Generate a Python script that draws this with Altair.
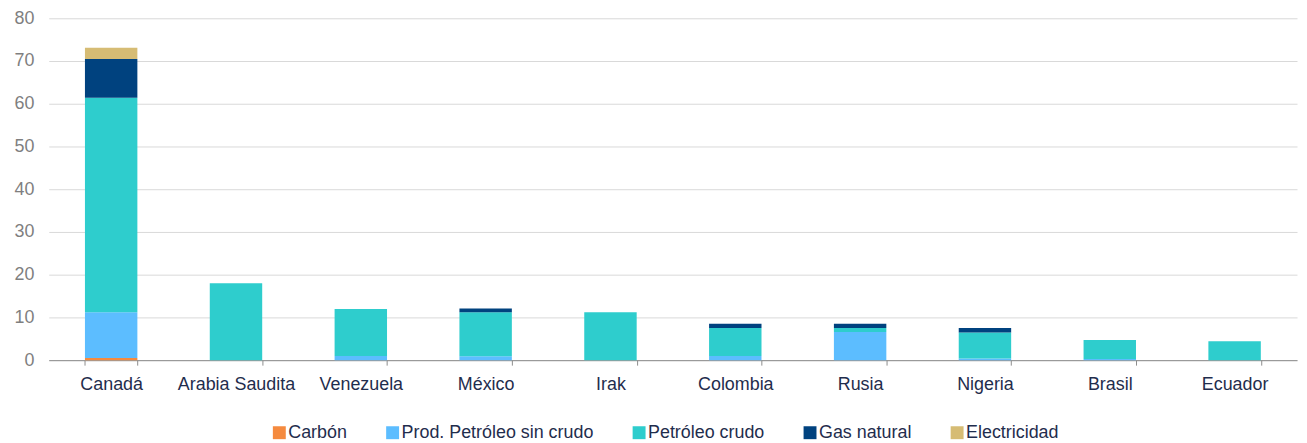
import altair as alt
import pandas as pd

countries = ["Canadá", "Arabia Saudita", "Venezuela", "México", "Irak",
             "Colombia", "Rusia", "Nigeria", "Brasil", "Ecuador"]
series = ["Carbón", "Prod. Petróleo sin crudo", "Petróleo crudo", "Gas natural", "Electricidad"]
carbon = [0.5, 0, 0, 0, 0, 0, 0, 0, 0, 0]
prod = [10.7, 0, 1.0, 0.9, 0, 1.0, 6.6, 0.4, 0.3, 0]
crudo = [50.2, 18.0, 11.0, 10.3, 11.2, 6.5, 0.9, 6.1, 4.4, 4.4]
gas = [9.1, 0, 0, 0.9, 0, 1.0, 1.0, 1.0, 0, 0]
elec = [2.6, 0, 0, 0, 0, 0, 0, 0, 0, 0]
colors = ["#F58A3E", "#5CBDFF", "#2ECDCD", "#00427F", "#D6BC74"]

rows = []
for si, (name, vals) in enumerate(zip(series, [carbon, prod, crudo, gas, elec])):
    for c, v in zip(countries, vals):
        rows.append({"country": c, "serie": name, "value": v, "idx": si})
df = pd.DataFrame(rows)

font = "Liberation Sans"

chart = alt.Chart(df).mark_bar().encode(
    x=alt.X("country:N", sort=countries, title=None,
            scale=alt.Scale(paddingInner=0.58, paddingOuter=0.29),
            axis=alt.Axis(labelAngle=0, labelFontSize=18, labelColor="#1F2D4D",
                          labelFont=font, domainColor="#8C8C8C", tickColor="#8C8C8C",
                          tickBand="extent", tickSize=5, labelPadding=11, grid=False)),
    y=alt.Y("value:Q", title=None, stack="zero",
            scale=alt.Scale(domain=[0, 80]),
            axis=alt.Axis(values=list(range(0, 81, 10)), labelFontSize=18,
                          labelColor="#7F7F7F", labelFont=font, domain=False,
                          ticks=False, labelPadding=15, gridColor="#D9D9D9")),
    color=alt.Color("serie:N", sort=series, title=None,
                    scale=alt.Scale(domain=series, range=colors),
                    legend=alt.Legend(orient="none", legendX=223, legendY=408,
                                      direction="horizontal", symbolType="square",
                                      symbolSize=169, symbolStrokeWidth=0,
                                      labelFontSize=18, labelColor="#1F2D4D",
                                      labelFont=font, columnPadding=36,
                                      labelOffset=0, labelLimit=400)),
    order=alt.Order("idx:Q", sort="ascending"),
).properties(
    width=1256, height=344,
    autosize=alt.AutoSizeParams(type="none"),
    padding={"left": 41, "top": 9, "right": 2, "bottom": 80},
).configure_view(stroke=None)

chart.save("out.html", embed_options={"renderer": "svg", "actions": False})
